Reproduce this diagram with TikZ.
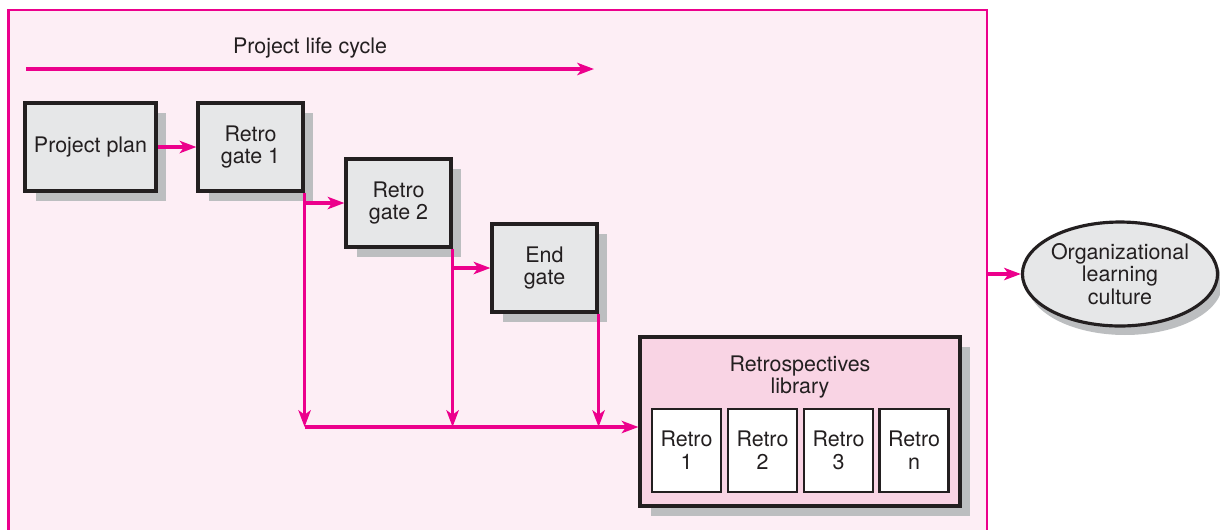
\documentclass[tikz,border=0pt]{standalone}
\usepackage{fontspec}
\setmainfont{TeX Gyre Heros}
\usetikzlibrary{arrows.meta,positioning,shapes.geometric,shadows}
\definecolor{pinkline}{RGB}{236,0,140}
\definecolor{pinkbg}{RGB}{253,238,245}
\definecolor{libpink}{RGB}{249,212,228}
\definecolor{boxgray}{RGB}{230,231,232}
\definecolor{shadegray}{RGB}{188,190,192}
\definecolor{inkgray}{RGB}{35,31,32}

\begin{document}
\begin{tikzpicture}[x=0.02cm,y=-0.02cm,
    every node/.style={font=\fontsize{12.2}{13}\selectfont,text=inkgray,align=center},
    boxshade/.style={drop shadow={fill=shadegray,opacity=1,shadow xshift=0.21cm,shadow yshift=-0.2cm}},
    gatebox/.style={draw=inkgray,line width=1.8pt,fill=boxgray,inner sep=0pt,
      minimum width=2.1cm,minimum height=1.76cm,boxshade},
    libbox/.style={draw=inkgray,line width=1.8pt,fill=libpink,inner sep=0pt,
      minimum width=6.4cm,minimum height=3.38cm,boxshade},
    retrobox/.style={draw=inkgray,line width=1.6pt,fill=white,inner sep=0pt,
      minimum width=1.38cm,minimum height=1.66cm},
    flow/.style={draw=pinkline,line width=2pt,-{Stealth[length=9.5pt,width=7pt,inset=2.5pt]}}]
    \useasboundingbox (0,0) rectangle (1220,529);

    % Frame
    \node[draw=pinkline,fill=pinkbg,line width=1.6pt,inner sep=0pt,
      minimum width=19.58cm,minimum height=11cm] (frame) at (497.5,285) {};

    % Life cycle
    \node (lctitle) at (310,48) {Project life cycle};
    \coordinate (lcstart) at (26,69);
    \coordinate (lcend) at (594,69);
    \draw[flow] (lcstart) -- (lcend);

    % Gates
    \node[gatebox,minimum width=2.62cm] (pp) at (90.5,147) {Project plan};
    \node[gatebox] (rg1) at (250.5,147) {Retro\\gate 1};
    \node[gatebox] (rg2) at (398.5,203) {Retro\\gate 2};
    \node[gatebox] (endg) at (544.5,268) {End\\gate};

    % Library
    \node[libbox] (lib) at (800,421.5) {};
    \node (libtitle) at (800,377) {Retrospectives\\library};
    \node[retrobox] (r1) at (686.5,450.5) {Retro\\1};
    \node[retrobox] (r2) at (762.5,450.5) {Retro\\2};
    \node[retrobox] (r3) at (838.5,450.5) {Retro\\3};
    \node[retrobox] (rn) at (914,450.5) {Retro\\n};

    % Culture
    \node[ellipse,draw=inkgray,line width=1.8pt,fill=boxgray,inner sep=0pt,
      minimum width=3.8cm,minimum height=2.08cm,
      drop shadow={fill=shadegray,opacity=1,shadow xshift=0.1cm,shadow yshift=-0.18cm}]
      (org) at (1120,274) {Organizational\\learning\\culture};

    % Arrows
    \coordinate (bus) at (302,427);
    \draw[flow] (pp) -- (rg1);
    \draw[flow] (rg1.south east |- rg2.west) -- (rg2.west);
    \draw[flow] (rg2.south east |- endg.west) -- (endg.west);
    \draw[flow] (rg1.south east) -- (rg1.south east |- bus);
    \draw[flow] (rg2.south east) -- (rg2.south east |- bus);
    \draw[flow] (endg.south east) -- (endg.south east |- bus);
    \draw[flow] (rg1.south east |- bus) -- (bus -| lib.west);
    \draw[flow] (frame.east |- org.west) -- (org.west);
  \end{tikzpicture}
\end{document}
